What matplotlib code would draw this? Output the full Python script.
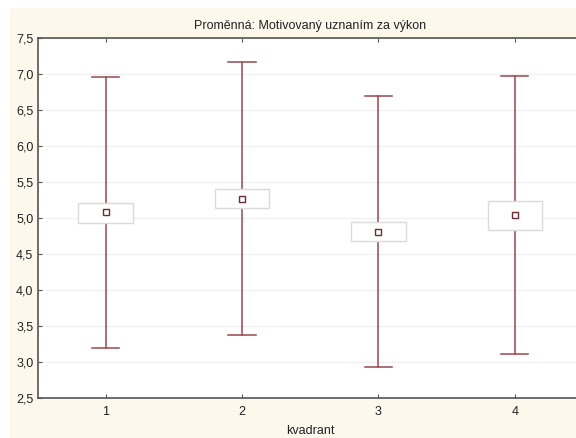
import matplotlib
matplotlib.use("Agg")
import matplotlib.pyplot as plt
from matplotlib.patches import Rectangle
from matplotlib.ticker import FuncFormatter

plt.rcParams['font.family'] = ['Liberation Sans', 'DejaVu Sans']

# Summary statistics per quadrant
groups = [1, 2, 3, 4]
means = [5.08, 5.27, 4.81, 5.04]
box_low = [4.935, 5.144, 4.68, 4.84]
box_high = [5.213, 5.404, 4.948, 5.241]
whisk_low = [3.197, 3.378, 2.928, 3.105]
whisk_high = [6.966, 7.166, 6.70, 6.98]

title = "Proměnná: Motivovaný uznaním za výkon"
xlabel = "kvadrant"

W, H = 576, 438
fig = plt.figure(figsize=(W / 100, H / 100), dpi=100)
fig.patch.set_facecolor("white")
bg = Rectangle((10 / W, 0), 1, 1 - 8 / H, transform=fig.transFigure,
               facecolor="#fcf8ec", edgecolor="none")
bg.set_zorder(-10)
fig.add_artist(bg)

left, right = 37.5 / W, 583 / W
top, bottom = 1 - 38.3 / H, 1 - 397.7 / H
ax = fig.add_axes([left, bottom, right - left, top - bottom])
ax.set_zorder(1)
ax.set_facecolor("white")

red = "#9a4650"
box_half = 0.2
cap_half = 0.1
for x, m, bl, bh, wl, wh in zip(groups, means, box_low, box_high, whisk_low, whisk_high):
    ax.plot([x, x], [wl, bl], color=red, lw=1.1, zorder=3)
    ax.plot([x, x], [bh, wh], color=red, lw=1.1, zorder=3)
    ax.plot([x - cap_half, x + cap_half], [wl, wl], color=red, lw=1.1, zorder=3)
    ax.plot([x - cap_half, x + cap_half], [wh, wh], color=red, lw=1.1, zorder=3)
    ax.add_patch(Rectangle((x - box_half, bl), 2 * box_half, bh - bl,
                           facecolor="white", edgecolor="#dadada", lw=1.0, zorder=4))
    ax.plot([x], [m], marker="s", ms=4.5, mfc="white", mec="#6e2a33", mew=1.0, zorder=5)

ax.set_xlim(0.5, 4.5)
ax.set_ylim(2.5, 7.5)
ax.set_xticks(groups)
ax.set_yticks([2.5 + 0.5 * i for i in range(11)])
ax.yaxis.set_major_formatter(FuncFormatter(lambda v, p: f"{v:.1f}".replace(".", ",")))
ax.grid(axis="y", color="#f0f0f0", lw=0.9, zorder=1)
ax.set_axisbelow(True)

for s in ["left", "bottom", "top"]:
    ax.spines[s].set_color("#555555")
    ax.spines[s].set_linewidth(1.2)
ax.spines["right"].set_visible(False)
ax.tick_params(axis="both", direction="in", length=3, width=0.8, color="#555555",
               labelsize=9, labelcolor="#222222")
ax.tick_params(axis="x", top=True, pad=6)
ax.tick_params(axis="y", pad=3)

ax.set_title(title, fontsize=9, color="#222222", pad=7)
ax.set_xlabel(xlabel, fontsize=9, color="#222222", labelpad=5)

fig.savefig("out.png", dpi=100, facecolor=fig.get_facecolor())
